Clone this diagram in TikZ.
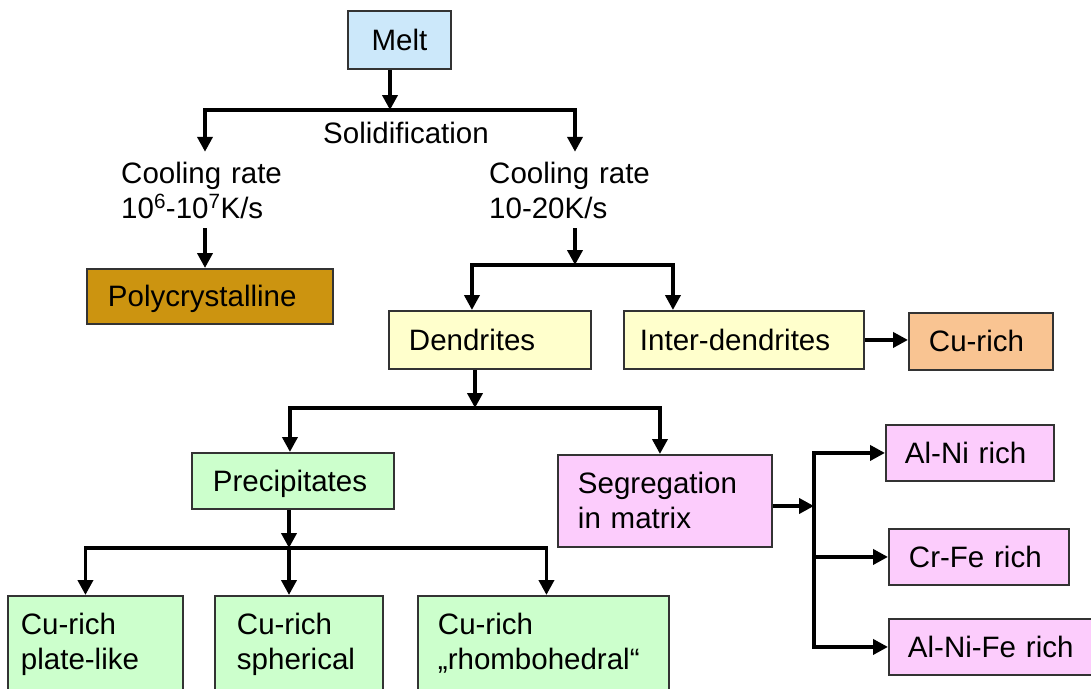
\documentclass[tikz,border=0pt]{standalone}
\usepackage{fontspec}
\setmainfont{Liberation Sans}
\usetikzlibrary{arrows.meta}
\definecolor{cmelt}{HTML}{CCE8FA}
\definecolor{cpoly}{HTML}{CC9410}
\definecolor{cyel}{HTML}{FFFFCC}
\definecolor{corg}{HTML}{F9C492}
\definecolor{cgrn}{HTML}{CCFFCC}
\definecolor{cpnk}{HTML}{FCCCFC}
\newcommand{\fsz}{\fontsize{29.5pt}{35pt}\selectfont}
\tikzset{
  box/.style={draw=black!80, line width=1.9pt, anchor=north west, inner ysep=0pt,
    font=\fsz, align=left, text height=21pt, text depth=0pt},
  lowbox/.style={box, inner ysep=18pt, text depth=60pt},
  lbl/.style={font=\fsz, align=left, text width=200pt, inner xsep=0pt, inner ysep=10pt,
    text height=21pt, text depth=35pt, anchor=west},
  plain/.style={font=\fsz, inner sep=0pt, text height=21pt, text depth=0pt},
  arr/.style={line width=3.8pt, line join=miter, -{Triangle[length=15pt,width=15pt]}}
}
\begin{document}
\begin{tikzpicture}[x=1pt,y=-1pt]
\useasboundingbox (0,0) rectangle (1091,688);
\clip (0,0) rectangle (1091,688);

% boxes
\node[box, fill=cmelt, minimum width=103pt, minimum height=58pt, inner xsep=0pt, text width=103pt, align=center] (melt) at (347,10) {Melt};
\node[box, fill=cpoly, minimum width=246pt, minimum height=55pt, inner xsep=21pt, text width=204pt] (poly) at (86,268) {Polycrystalline};
\node[box, fill=cyel, minimum width=202pt, minimum height=58pt, inner xsep=20pt, text width=162pt] (dend) at (388,310) {Dendrites};
\node[box, fill=cyel, minimum width=240pt, minimum height=58pt, inner xsep=16pt, text width=208pt] (inter) at (623,310) {Inter-dendrites};
\node[box, fill=corg, minimum width=144pt, minimum height=57pt, inner xsep=20pt, text width=104pt] (curich) at (908,312) {Cu-rich};
\node[box, fill=cgrn, minimum width=202pt, minimum height=56pt, inner xsep=21pt, text width=160pt] (prec) at (191,452) {Precipitates};
\node[box, fill=cpnk, minimum width=214pt, minimum height=92pt, inner xsep=20pt, text width=174pt, text depth=35pt] (seg) at (557,454) {Segregation\\in matrix};
\node[box, fill=cpnk, minimum width=168pt, minimum height=56pt, inner xsep=19pt, text width=130pt] (alni) at (885,424) {Al-Ni rich};
\node[box, fill=cpnk, minimum width=180pt, minimum height=56pt, inner xsep=20pt, text width=140pt] (crfe) at (888,528) {Cr-Fe rich};
\node[box, fill=cpnk, minimum width=215pt, minimum height=56pt, inner xsep=19pt, text width=177pt] (alnife) at (888,618) {Al-Ni-Fe rich};
\node[lowbox, fill=cgrn, minimum width=175pt, inner xsep=13pt, text width=149pt] (plate) at (7,595) {Cu-rich\\plate-like};
\node[lowbox, fill=cgrn, minimum width=168pt, inner xsep=22pt, text width=124pt] (spher) at (214,595) {Cu-rich\\spherical};
\node[lowbox, fill=cgrn, minimum width=251pt, inner xsep=20pt, text width=211pt] (rhomb) at (417,595) {Cu-rich\\„rhombohedral“};

% labels
\node[plain] (sol) at (406,133) {Solidification};
\node[lbl] (crL) at (121,190) {Cooling rate\\10\textsuperscript{6}-10\textsuperscript{7}K/s};
\node[lbl] (crR) at (489,190) {Cooling rate\\10-20K/s};

% junction points
\coordinate (j1) at (390,110);
\coordinate (xL) at (205,0);
\coordinate (xR) at (575,0);
\coordinate (j2) at (575,265);
\coordinate (j3) at (475,408);
\coordinate (j4) at (289,548);
\coordinate (j5) at (814,506);

% connectors
\draw[arr] (melt.south -| j1) -- (j1);
\draw[arr] (j1) -| (crL.north -| xL);
\draw[arr] (j1) -| (crR.north -| xR);
\draw[arr] (crL.south -| xL) -- (poly.north -| xL);
\draw[arr] (crR.south -| j2) -- (j2);
\draw[arr] (j2) -| ([xshift=-18pt]dend.north);
\draw[arr] (j2) -| ([xshift=-71pt]inter.north);
\draw[arr] (inter.east) -- (inter.east -| curich.west);
\draw[arr] (dend.south -| j3) -- (j3);
\draw[arr] (j3) -| ([xshift=-3pt]prec.north);
\draw[arr] (j3) -| ([xshift=-5pt]seg.north);
\draw[arr] (prec.south -| j4) -- (j4);
\draw[arr] (j4) -| ([xshift=-10pt]plate.north);
\draw[arr] (j4) -- (spher.north -| j4);
\draw[arr] (j4) -| ([xshift=3pt]rhomb.north);
\draw[arr] (seg.east |- j5) -- (j5);
\draw[arr] (j5) |- (alni.west);
\draw[arr] (j5) |- (alnife.west);
\draw[arr] (j5 |- crfe.west) -- (crfe.west);
\end{tikzpicture}
\end{document}
